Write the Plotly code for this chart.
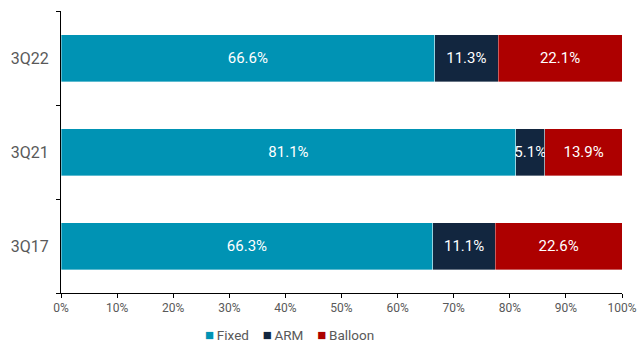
import plotly.graph_objects as go

# Share of loans by rate type, per quarter
quarters = ["3Q17", "3Q21", "3Q22"]
fixed = [66.3, 81.1, 66.6]
arm = [11.1, 5.1, 11.3]
balloon = [22.6, 13.9, 22.1]

series_names = ["Fixed", "ARM", "Balloon"]
series_values = [fixed, arm, balloon]
series_colors = ["#0093B4", "#12263F", "#AD0000"]

x_ticks = list(range(0, 101, 10))
x_tick_labels = [f"{v}%" for v in x_ticks]

fig = go.Figure()
for name, vals, color in zip(series_names, series_values, series_colors):
    fig.add_trace(go.Bar(
        y=quarters,
        x=vals,
        name=name,
        orientation="h",
        marker=dict(color=color, line=dict(width=0.6, color="rgba(255,255,255,0.6)")),
        width=0.5,
        text=[f"{v:.1f}%" for v in vals],
        textposition="inside",
        insidetextanchor="middle",
        textangle=0,
        constraintext="none",
        textfont=dict(color="white", size=15, family="Roboto"),
        showlegend=False,
    ))

# Legend drawn as a single line of coloured squares and names
legend_parts = [
    f"<span style='color:{c}; font-size:15px'>■</span>\u2009{n}"
    for n, c in zip(series_names, series_colors)
]
fig.add_annotation(
    text="\u2003".join(legend_parts),
    xref="paper", yref="paper",
    x=0.408, y=-0.148,
    xanchor="center", yanchor="middle",
    showarrow=False,
    font=dict(family="Roboto", size=13.5, color="#595959"),
)

fig.update_layout(
    barmode="stack",
    width=644,
    height=344,
    margin=dict(l=61, r=22, t=11, b=51, autoexpand=False),
    paper_bgcolor="white",
    plot_bgcolor="white",
    font=dict(family="Roboto", color="#595959", size=12),
    uniformtext=dict(minsize=15, mode="show"),
    showlegend=False,
)

fig.update_xaxes(
    range=[0, 100],
    tickmode="array",
    tickvals=x_ticks,
    ticktext=x_tick_labels,
    showgrid=False,
    zeroline=False,
    showline=True,
    linecolor="#000000",
    linewidth=1,
    ticks="outside",
    ticklen=4,
    tickcolor="#000000",
    tickfont=dict(size=12, color="#595959"),
)

fig.update_yaxes(
    categoryorder="array",
    categoryarray=quarters,
    showgrid=False,
    showline=True,
    linecolor="#000000",
    linewidth=1,
    ticks="outside",
    tickson="boundaries",
    ticklen=4,
    tickcolor="#000000",
    ticklabelstandoff=8,
    tickfont=dict(size=16, color="#595959"),
)

fig.write_html("out.html")
